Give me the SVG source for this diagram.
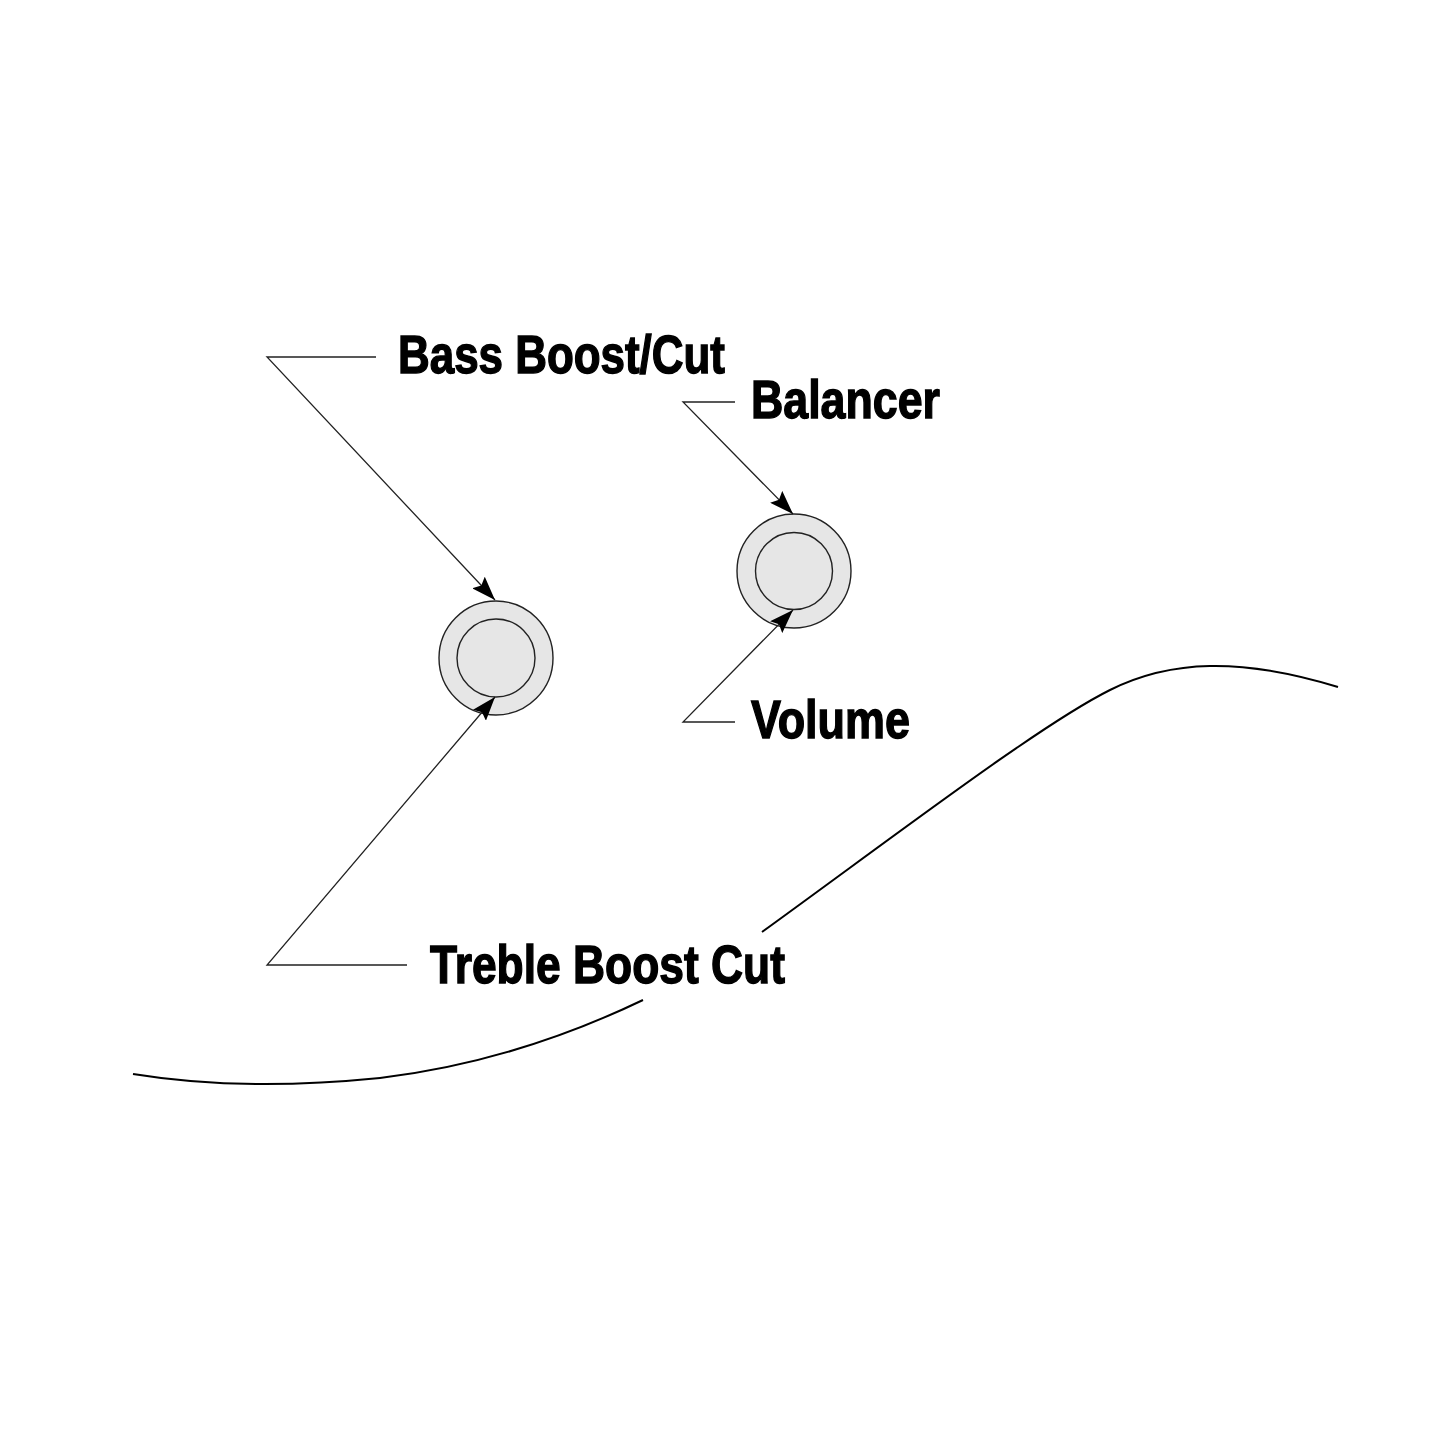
<svg xmlns="http://www.w3.org/2000/svg" width="1445" height="1445" viewBox="0 0 1445 1445">
<style>
.lbl{font-family:"Liberation Sans",Arial,sans-serif;font-weight:bold;font-size:53px;fill:#000;stroke:#000;stroke-width:1.4}
.lead{fill:none;stroke:#222;stroke-width:1.3}
.ko{fill:#e6e6e6;stroke:#222;stroke-width:1.4}
.ki{fill:#e6e6e6;stroke:#222;stroke-width:1.4}
.body{fill:none;stroke:#000;stroke-width:2}
</style>
<defs>
<marker id="ah" viewBox="0 0 24 17" refX="24" refY="8.5" markerWidth="24" markerHeight="17" markerUnits="userSpaceOnUse" orient="auto">
<path d="M0,0 L24,8.5 L0,17 L4,8.5 Z" fill="#000"/>
</marker>
</defs>
<rect width="1445" height="1445" fill="#fff"/>
<g id="body-outline">
<path class="body" d="M133,1074 C200,1085 280,1088 380,1078 C480,1066 570,1035 643,1000"/>
<path class="body" d="M762,932 C900,832 1040,725 1110,690 C1170,660 1240,657 1338,687"/>
</g>
<g id="knob-bass-treble">
<circle class="ko" cx="496" cy="658" r="57"/>
<circle class="ki" cx="496" cy="658" r="39"/>
</g>
<g id="knob-balancer-volume">
<circle class="ko" cx="794" cy="571" r="57"/>
<circle class="ki" cx="794" cy="571" r="38.5"/>
</g>
<g id="connectors">
<path class="lead" d="M376,357 L267,357 L495,600" marker-end="url(#ah)"/>
<path class="lead" d="M407,965 L267,965 L495,697" marker-end="url(#ah)"/>
<path class="lead" d="M735,402 L683,402 L793,514" marker-end="url(#ah)"/>
<path class="lead" d="M735,722 L683,722 L793,610" marker-end="url(#ah)"/>
</g>
<g id="labels">
<text class="lbl" x="398" y="373" textLength="327" lengthAdjust="spacingAndGlyphs">Bass Boost/Cut</text>
<text class="lbl" x="751" y="418" textLength="189" lengthAdjust="spacingAndGlyphs">Balancer</text>
<text class="lbl" x="751" y="738" textLength="159" lengthAdjust="spacingAndGlyphs">Volume</text>
<text class="lbl" x="430" y="983" textLength="355" lengthAdjust="spacingAndGlyphs">Treble Boost Cut</text>
</g>
</svg>
